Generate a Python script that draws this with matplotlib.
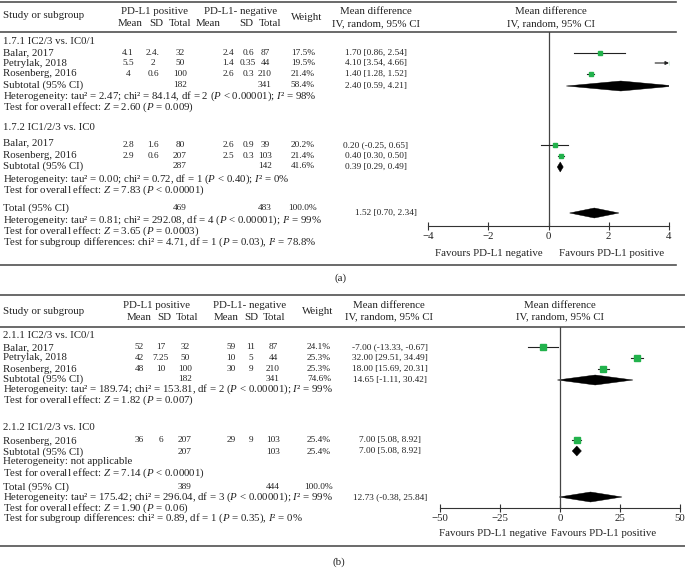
import matplotlib
matplotlib.use("Agg")
import matplotlib.pyplot as plt
from matplotlib.patches import Polygon

plt.rcParams['font.family'] = ['Liberation Serif', 'DejaVu Serif']
plt.rcParams['mathtext.fontset'] = 'custom'
plt.rcParams['mathtext.rm'] = 'Liberation Serif'
plt.rcParams['mathtext.it'] = 'Liberation Serif:italic'

# ---- panel (a) data ----
studies_a = ['Balar, 2017', 'Petrylak, 2018', 'Rosenberg, 2016', 'Balar, 2017', 'Rosenberg, 2016']
group_of_a = [0, 0, 0, 1, 1]
pos_mean_a = ['4.1', '5.5', '4', '2.8', '2.9']
pos_sd_a = ['2.4.', '2', '0.6', '1.6', '0.6']
pos_n_a = [32, 50, 100, 80, 207]
neg_mean_a = ['2.4', '1.4', '2.6', '2.6', '2.5']
neg_sd_a = ['0.6', '0.35', '0.3', '0.9', '0.3']
neg_n_a = [87, 44, 210, 39, 103]
weight_a = [17.5, 19.5, 21.4, 20.2, 21.4]
md_a = [1.70, 4.10, 1.40, 0.20, 0.40]
lo_a = [0.86, 3.54, 1.28, -0.25, 0.30]
hi_a = [2.54, 4.66, 1.52, 0.65, 0.50]
ci_a = ['1.70 [0.86, 2.54]', '4.10 [3.54, 4.66]', '1.40 [1.28, 1.52]',
        '0.20 (-0.25, 0.65]', '0.40 [0.30, 0.50]']

sub_title_a = ['1.7.1 IC2/3 vs. IC0/1', '1.7.2 IC1/2/3 vs. IC0']
sub_pos_n_a = [182, 287]
sub_neg_n_a = [341, 142]
sub_weight_a = [58.4, 41.6]
sub_md_a = [2.40, 0.39]
sub_lo_a = [0.59, 0.29]
sub_hi_a = [4.21, 0.49]
sub_ci_a = ['2.40 [0.59, 4.21]', '0.39 [0.29, 0.49]']
sub_het_a = [r'Heterogeneity: tau² = 2.47; chi² = 84.14, df = 2 ($P$ < 0.00001); $I$² = 98%',
             r'Heterogeneity: tau² = 0.00; chi² = 0.72, df = 1 ($P$ < 0.40); $I$² = 0%']
sub_test_a = [r'Test for overall effect: $Z$ = 2.60 ($P$ = 0.009)',
              r'Test for overall effect: $Z$ = 7.83 ($P$ < 0.00001)']

tot_a = dict(pos_n=469, neg_n=483, weight=100.0, md=1.52, lo=0.70, hi=2.34, ci='1.52 [0.70, 2.34]')
notes_a = [r'Heterogeneity: tau² = 0.81; chi² = 292.08, df = 4 ($P$ < 0.00001); $I$² = 99%',
           r'Test for overall effect: $Z$ = 3.65 ($P$ = 0.0003)',
           r'Test for subgroup differences: chi² = 4.71, df = 1 ($P$ = 0.03), $I$² = 78.8%']

# ---- panel (b) data ----
studies_b = ['Balar, 2017', 'Petrylak, 2018', 'Rosenberg, 2016', 'Rosenberg, 2016']
group_of_b = [0, 0, 0, 1]
pos_mean_b = ['52', '42', '48', '36']
pos_sd_b = ['17', '7.25', '10', '6']
pos_n_b = [32, 50, 100, 207]
neg_mean_b = ['59', '10', '30', '29']
neg_sd_b = ['11', '5', '9', '9']
neg_n_b = [87, 44, 210, 103]
weight_b = [24.1, 25.3, 25.3, 25.4]
md_b = [-7.00, 32.00, 18.00, 7.00]
lo_b = [-13.33, 29.51, 15.69, 5.08]
hi_b = [-0.67, 34.49, 20.31, 8.92]
ci_b = ['-7.00 (-13.33, -0.67]', '32.00 [29.51, 34.49]', '18.00 [15.69, 20.31]', '7.00 [5.08, 8.92]']

sub_title_b = ['2.1.1 IC2/3 vs. IC0/1', '2.1.2 IC1/2/3 vs. IC0']
sub_pos_n_b = [182, 207]
sub_neg_n_b = [341, 103]
sub_weight_b = [74.6, 25.4]
sub_md_b = [14.65, 7.00]
sub_lo_b = [-1.11, 5.08]
sub_hi_b = [30.42, 8.92]
sub_ci_b = ['14.65 [-1.11, 30.42]', '7.00 [5.08, 8.92]']
sub_het_b = [r'Heterogeneity: tau² = 189.74; chi² = 153.81, df = 2 ($P$ < 0.00001); $I$² = 99%',
             'Heterogeneity: not applicable']
sub_test_b = [r'Test for overall effect: $Z$ = 1.82 ($P$ = 0.007)',
              r'Test for overall effect: $Z$ = 7.14 ($P$ < 0.00001)']

tot_b = dict(pos_n=389, neg_n=444, weight=100.0, md=12.73, lo=-0.38, hi=25.84, ci='12.73 (-0.38, 25.84]')
notes_b = [r'Heterogeneity: tau² = 175.42; chi² = 296.04, df = 3 ($P$ < 0.00001); $I$² = 99%',
           r'Test for overall effect: $Z$ = 1.90 ($P$ = 0.06)',
           r'Test for subgroup differences: chi² = 0.89, df = 1 ($P$ = 0.35), $I$² = 0%']

# ---- layout (pixel positions, y from top) ----
layout_a = dict(right=676, top=1.5, head=32, bottom=265, lx=3,
                head_y=(12, 24), study_head_y=16, weight_head_y=17,
                pos_head=155, pos_cols=(130, 156, 180), neg_head=241, neg_cols=(208, 246, 270),
                weight_head=307, md_head=376, plot_head=551,
                cols=(128, 153, 180, 228, 248, 265, 303), ci_x=376, tot_ci_x=386,
                title_y=(42, 128), label_y=(53, 63, 74, 143, 155), value_y=(53, 63, 74, 145, 156),
                sub_label_y=(85, 166), sub_value_y=(86, 167), het_y=(96, 179), test_y=(107, 190),
                tot_label_y=208, tot_value_y=213, notes_y=(220, 231, 242),
                plot_x=(428, 669), plot_y=(32, 226), xlim=(-4, 4), ticks=[-4, -2, 0, 2, 4],
                fav_y=253, fav_neg=543, fav_pos=559, tag='(a)', tag_xy=(341, 278))

layout_b = dict(right=685, top=295, head=327, bottom=546, lx=3,
                head_y=(306, 317), study_head_y=312, weight_head_y=312,
                pos_head=157, pos_cols=(139, 164, 187), neg_head=250, neg_cols=(226, 251, 274),
                weight_head=318, md_head=389, plot_head=560,
                cols=(139, 161, 185, 231, 251, 273, 319), ci_x=390, tot_ci_x=390,
                title_y=(336, 427), label_y=(348, 358, 369, 441), value_y=(347, 358, 369, 440),
                sub_label_y=(379, 452), sub_value_y=(380, 451), het_y=(389, 462), test_y=(400, 473),
                tot_label_y=487, tot_value_y=497, notes_y=(497.5, 508, 518.5),
                plot_x=(440, 680), plot_y=(327, 508), xlim=(-50, 50), ticks=[-50, -25, 0, 25, 50],
                fav_y=533, fav_neg=547, fav_pos=551, tag='(b)', tag_xy=(339, 562))

W, H = 685, 568
FS = 7.8
FN = 6.7
LINE = '#505050'
GREEN = '#22b24c'

fig = plt.figure(figsize=(W / 100, H / 100), dpi=100)
bg = fig.add_axes([0, 0, 1, 1])
bg.set_xlim(0, W)
bg.set_ylim(H, 0)
bg.axis('off')


def txt(x, y, s, ha='left', size=FS):
    bg.text(x, y, s, ha=ha, va='center', fontsize=size, color='#222222')


def diamond(ax, md, lo, hi, y, h=5):
    ax.add_patch(Polygon([(lo, y), (md, y - h), (hi, y), (md, y + h)], closed=True,
                         facecolor='black', edgecolor='black', lw=0.3))


def draw_panel(L, names, grp, pm, psd, pn, nm, nsd, nn, wt, md, lo, hi, ci,
               stitle, spn, snn, swt, smd, slo, shi, sci, shet, stest, tot, notes):
    # rules
    for y in (L['top'], L['head'], L['bottom']):
        bg.plot([0, L['right']], [y, y], color=LINE, lw=1.2)
    # header
    txt(L['lx'], L['study_head_y'], 'Study or subgroup')
    txt(L['pos_head'], L['head_y'][0], 'PD-L1 positive', 'center')
    txt(L['neg_head'], L['head_y'][0], 'PD-L1- negative', 'center')
    for x, s in zip(L['pos_cols'] + L['neg_cols'], ['Mean', 'SD', 'Total'] * 2):
        txt(x, L['head_y'][1], s, 'center')
    txt(L['weight_head'], L['weight_head_y'], 'Weight', 'center')
    for x in (L['md_head'], L['plot_head']):
        txt(x, L['head_y'][0], 'Mean difference', 'center')
        txt(x, L['head_y'][1], 'IV, random, 95% CI', 'center')

    # forest axes
    x0, x1 = L['plot_x']
    y0, y1 = L['plot_y']
    ax = fig.add_axes([x0 / W, 1 - y1 / H, (x1 - x0) / W, (y1 - y0) / H])
    ax.set_xlim(*L['xlim'])
    ax.set_ylim(y1, y0)
    ax.patch.set_alpha(0)
    for s in ('top', 'left', 'right'):
        ax.spines[s].set_visible(False)
    ax.spines['bottom'].set_color('#333333')
    ax.spines['bottom'].set_linewidth(0.8)
    ax.set_yticks([])
    ax.set_xticks(L['ticks'])
    ax.tick_params(axis='x', direction='inout', length=6, width=0.8, color='#333333',
                   labelsize=FS, pad=1, labelcolor='#222222')
    ax.axvline(0, color='#444444', lw=0.9)
    xmax = L['xlim'][1]

    c = L['cols']
    for i in range(len(names)):
        yl, yv = L['label_y'][i], L['value_y'][i]
        txt(L['lx'], yl, names[i])
        for x, v in zip(c, [pm[i], psd[i], pn[i], nm[i], nsd[i], nn[i], f'{wt[i]:.1f}%']):
            txt(x, yv, str(v), 'center', FN)
        txt(L['ci_x'], yv, ci[i], 'center', FN)
        if hi[i] > xmax:
            ax.annotate('', xy=(xmax, yv), xytext=(lo[i], yv),
                        arrowprops=dict(arrowstyle='-|>', color='#222222', lw=0.8,
                                        mutation_scale=5, shrinkA=0, shrinkB=0))
        else:
            ax.plot([lo[i], hi[i]], [yv, yv], color='#222222', lw=0.8)
        ax.plot(md[i], yv, marker='s', ms=0.16 * wt[i], color=GREEN, mec=GREEN)

    for g in range(len(stitle)):
        txt(L['lx'], L['title_y'][g], stitle[g])
        ys = L['sub_label_y'][g]
        txt(L['lx'], ys, 'Subtotal (95% CI)')
        txt(c[2], ys, str(spn[g]), 'center', FN)
        txt(c[5], ys, str(snn[g]), 'center', FN)
        txt(c[6], ys, f'{swt[g]:.1f}%', 'center', FN)
        txt(L['ci_x'], L['sub_value_y'][g], sci[g], 'center', FN)
        diamond(ax, smd[g], slo[g], shi[g], L['sub_value_y'][g])
        txt(L['lx'], L['het_y'][g], shet[g])
        txt(L['lx'], L['test_y'][g], stest[g])

    yt = L['tot_label_y']
    txt(L['lx'], yt, 'Total (95% CI)')
    txt(c[2], yt, str(tot['pos_n']), 'center', FN)
    txt(c[5], yt, str(tot['neg_n']), 'center', FN)
    txt(c[6], yt, f"{tot['weight']:.1f}%", 'center', FN)
    txt(L['tot_ci_x'], L['tot_value_y'], tot['ci'], 'center', FN)
    diamond(ax, tot['md'], tot['lo'], tot['hi'], L['tot_value_y'])
    for y, s in zip(L['notes_y'], notes):
        txt(L['lx'], y, s)

    bg.text(L['fav_neg'], L['fav_y'], 'Favours PD-L1 negative', ha='right', va='center',
            fontsize=FS, color='#222222')
    bg.text(L['fav_pos'], L['fav_y'], 'Favours PD-L1 positive', ha='left', va='center',
            fontsize=FS, color='#222222')
    txt(L['tag_xy'][0], L['tag_xy'][1], L['tag'], 'center')


draw_panel(layout_a, studies_a, group_of_a, pos_mean_a, pos_sd_a, pos_n_a, neg_mean_a, neg_sd_a,
           neg_n_a, weight_a, md_a, lo_a, hi_a, ci_a, sub_title_a, sub_pos_n_a, sub_neg_n_a,
           sub_weight_a, sub_md_a, sub_lo_a, sub_hi_a, sub_ci_a, sub_het_a, sub_test_a, tot_a, notes_a)
draw_panel(layout_b, studies_b, group_of_b, pos_mean_b, pos_sd_b, pos_n_b, neg_mean_b, neg_sd_b,
           neg_n_b, weight_b, md_b, lo_b, hi_b, ci_b, sub_title_b, sub_pos_n_b, sub_neg_n_b,
           sub_weight_b, sub_md_b, sub_lo_b, sub_hi_b, sub_ci_b, sub_het_b, sub_test_b, tot_b, notes_b)

fig.savefig('out.png', dpi=100)
